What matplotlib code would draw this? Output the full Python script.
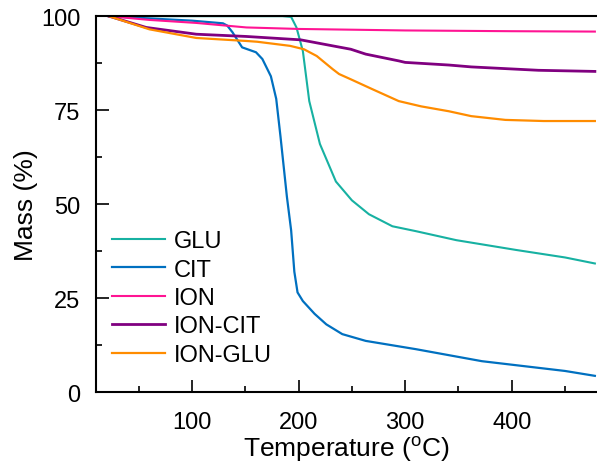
import matplotlib
matplotlib.use("Agg")
import matplotlib.pyplot as plt
from matplotlib.ticker import MultipleLocator

plt.rcParams['font.family'] = ['Liberation Sans', 'DejaVu Sans']
plt.rcParams['mathtext.fontset'] = 'custom'
plt.rcParams['mathtext.rm'] = 'Liberation Sans'

# TGA curves: temperature (C) and remaining mass (%)
glu_t = [22, 60, 100, 150, 185, 193, 198, 204, 210, 220, 235, 250, 266, 288, 310, 348, 404, 450, 478]
glu_m = [100, 100, 100, 100, 100, 99.8, 97, 90.7, 77.4, 66, 56, 51, 47.3, 44.1, 42.8, 40.4, 37.8, 35.8, 34.2]

cit_t = [22, 60, 100, 129, 133, 138, 147, 160, 166, 174, 179, 183, 186, 189, 193, 196, 199, 204,
         215, 226, 241, 263, 310, 372, 450, 478]
cit_m = [100, 99.4, 98.8, 98.1, 97.5, 95.7, 91.7, 90.4, 88.6, 84, 78, 68, 60, 52, 43, 32, 26.5, 24.2,
         20.8, 18, 15.4, 13.6, 11.4, 8.2, 5.6, 4.3]

ion_t = [22, 60, 104, 151, 200, 250, 300, 400, 478]
ion_m = [100, 99.0, 98.2, 97.0, 96.6, 96.4, 96.2, 96.0, 95.9]

ion_cit_t = [22, 57, 104, 151, 202, 232, 249, 263, 294, 300, 341, 362, 425, 478]
ion_cit_m = [100, 97.0, 95.2, 94.6, 93.7, 92.1, 91.2, 89.9, 88.1, 87.7, 87.0, 86.5, 85.6, 85.3]

ion_glu_t = [22, 60, 104, 151, 161, 192, 205, 217, 232, 238, 249, 269, 294, 315, 341, 362, 394, 430, 478]
ion_glu_m = [100, 96.5, 94.2, 93.4, 93.2, 92.1, 91.2, 89.4, 85.9, 84.6, 83.2, 80.6, 77.4, 76.0, 74.7, 73.4, 72.4, 72.1, 72.1]

fig = plt.figure(figsize=(5.97, 4.64), dpi=100)
ax = fig.add_axes([0.161, 0.153, 0.839, 0.81])

ax.plot(glu_t, glu_m, color='#17B1A2', lw=1.5, label='GLU')
ax.plot(cit_t, cit_m, color='#0070C0', lw=1.6, label='CIT')
ax.plot(ion_t, ion_m, color='#FF1493', lw=1.5, label='ION')
ax.plot(ion_cit_t, ion_cit_m, color='#800080', lw=2.0, label='ION-CIT')
ax.plot(ion_glu_t, ion_glu_m, color='#FF8C00', lw=1.6, label='ION-GLU')

ax.set_xlim(10, 480)
ax.set_ylim(0, 100)
ax.xaxis.set_major_locator(MultipleLocator(100))
ax.xaxis.set_minor_locator(MultipleLocator(50))
ax.yaxis.set_major_locator(MultipleLocator(25))
ax.yaxis.set_minor_locator(MultipleLocator(12.5))
ax.tick_params(which='both', direction='in', labelsize=17, width=1.2)
ax.tick_params(which='major', length=9)
ax.tick_params(axis='y', which='major', pad=11.5)
ax.tick_params(axis='x', which='major', pad=14)
ax.tick_params(which='minor', length=4.5)
ax.spines['right'].set_visible(False)
for s in ['left', 'bottom', 'top']:
    ax.spines[s].set_linewidth(1.5)

ax.set_xlabel('Temperature ($^{\\rm o}$C)', fontsize=19, labelpad=0)
ax.set_ylabel('Mass (%)', fontsize=19, labelpad=2)

ax.legend(loc='lower left', bbox_to_anchor=(-0.01, 0.013), frameon=False, fontsize=17,
          handlelength=2.25, handletextpad=0.35, labelspacing=0.27)

fig.savefig('out.png', dpi=100)
